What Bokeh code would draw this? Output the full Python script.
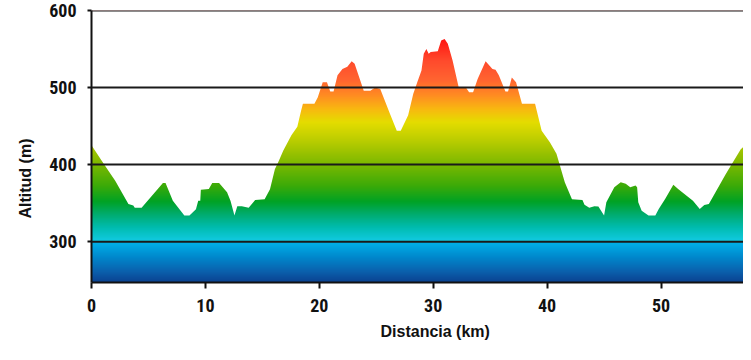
import numpy as np
from bokeh.plotting import figure
from bokeh.models import Span, Title, FixedTicker, Range1d
from bokeh.embed import file_html
from bokeh.resources import INLINE

# ---- data ----
km = [0.0, 1.07, 2.08, 3.24, 3.67, 3.8, 4.4, 6.27, 6.5, 7.14, 8.15, 8.6, 9.17, 9.37, 9.55, 9.6,
      10.3, 10.6, 11.2, 11.9, 12.2, 12.55, 12.8, 13.2, 13.8, 14.37, 15.2, 15.67, 16.1, 16.45,
      16.83, 17.55, 18.07, 18.4, 18.56, 19.57, 19.86, 20.3, 20.67, 20.96, 21.25, 21.6, 22.03,
      22.46, 22.84, 23.1, 23.9, 24.48, 24.9, 25.35, 26.2, 26.8, 27.15, 27.8, 28.25, 28.6, 28.97,
      29.17, 29.4, 29.6, 29.78, 30.4, 30.7, 31.0, 31.28, 31.7, 32.24, 32.87, 33.15, 33.5, 33.9,
      34.6, 35.2, 35.47, 35.76, 36.34, 36.57, 36.9, 37.27, 37.79, 38.94, 39.52, 40.24, 40.82,
      41.55, 42.18, 43.1, 43.28, 43.7, 44.15, 44.5, 45.0, 45.2, 45.9, 46.46, 46.9, 47.3, 47.76,
      47.9, 48.0, 48.3, 48.9, 49.5, 49.8, 50.36, 51.08, 51.5, 52.8, 53.4, 53.8, 54.2, 55.7,
      57.0, 57.24]
alt = [425, 401, 379, 349, 347, 344, 344, 376, 376, 353, 334, 334, 342, 353, 353, 367.5,
       368.4, 376, 376, 364, 353, 334, 346, 346, 344, 354, 355, 368, 394, 405,
       418, 438, 449, 470, 479, 479, 487, 507, 507, 495, 495, 516, 524,
       527, 534, 531, 496, 496, 500, 498, 466, 444, 444, 464, 492, 507, 522,
       544, 550, 544, 546, 547, 561, 563, 557, 535, 500, 500, 494, 494, 511,
       534, 524, 523, 516, 495, 495, 513, 507, 479, 479, 444, 429, 414,
       377, 355, 354, 348, 344, 346, 345.5, 334, 351, 370.5, 377, 375, 370.5, 373,
       370.5, 351, 340, 334, 334, 342.5, 355.5, 374, 368.4, 353, 342.5, 347.7, 349, 388,
       420, 423]
x_ticks = [0, 10, 20, 30, 40, 50]
y_ticks = [300, 400, 500, 600]
x_title = "Distancia (km)"
y_title = "Altitud (m)"

# ---- style ----
Y0, Y1 = 247, 600
X0, X1 = 0, km[-1]
TICK_FONT = "Roboto Condensed, Roboto, sans-serif"
TITLE_FONT = "Liberation Sans, Arial, sans-serif"
grad_alt = [247, 262, 280, 299.4, 300.6, 318, 335, 352, 372, 400, 430, 455, 472, 490, 510, 535, 565, 600]
grad_col = ["#0a4190", "#0a62ae", "#0088cc", "#00b2ea", "#12cae2", "#00bcb0", "#00ac70",
            "#00a224", "#3aaa08", "#7ab800", "#b8cc00", "#e4dd00", "#f8b810", "#ff8c22",
            "#ff6430", "#ff4a2c", "#ff1010", "#ff0000"]

def hex_rgb(h):
    return [int(h[i:i + 2], 16) for i in (1, 3, 5)]

rgb = np.array([hex_rgb(c) for c in grad_col], dtype=float)
N = 706
ys = np.linspace(Y0, Y1, N)
img = np.empty((N, 2), dtype=np.uint32)
view = img.view(dtype=np.uint8).reshape((N, 2, 4))
for ch in range(3):
    view[:, :, ch] = np.interp(ys, grad_alt, rgb[:, ch]).round().astype(np.uint8)[:, None]
view[:, :, 3] = 255

p = figure(width=743, height=352, output_backend="svg", toolbar_location=None,
           x_range=Range1d(X0, X1), y_range=Range1d(Y0, Y1),
           min_border_left=91, min_border_right=0, min_border_top=10, min_border_bottom=70,
           frame_width=652, frame_height=272)
p.outline_line_color = None
p.xgrid.visible = False
p.ygrid.visible = False
p.background_fill_color = "white"

p.image_rgba(image=[img], x=X0, y=Y0, dw=X1 - X0, dh=Y1 - Y0)
p.varea(x=km, y1=alt, y2=Y1 + 100, fill_color="white", fill_alpha=1.0)

for t in y_ticks:
    p.add_layout(Span(location=t, dimension="width", line_color="#1a1a1a", line_width=2))

for ax in (p.xaxis[0], p.yaxis[0]):
    ax.axis_line_color = "#111111"
    ax.axis_line_width = 2
    ax.major_tick_line_color = "#111111"
    ax.major_tick_line_width = 2
    ax.minor_tick_line_color = None
    ax.major_tick_in = 0
    ax.major_label_text_font = TICK_FONT
    ax.major_label_text_font_style = "bold"
    ax.major_label_text_font_size = "18px"
    ax.major_label_text_color = "#111111"

p.xaxis.ticker = FixedTicker(ticks=x_ticks)
p.yaxis.ticker = FixedTicker(ticks=y_ticks)
p.xaxis.major_tick_out = 6
p.xaxis.major_label_standoff = 10
p.yaxis.major_tick_out = 4
p.yaxis.major_label_standoff = 11

xt = Title(text=x_title, align="left", offset=289, standoff=12, text_font=TITLE_FONT,
           text_font_style="bold", text_font_size="16px", text_color="#111111")
p.add_layout(xt, "below")
yt = Title(text=y_title, align="left", offset=64, standoff=26, text_font=TITLE_FONT,
           text_font_style="bold", text_font_size="16px", text_color="#111111")
p.add_layout(yt, "left")

open("out.html", "w").write(file_html(p, INLINE))
